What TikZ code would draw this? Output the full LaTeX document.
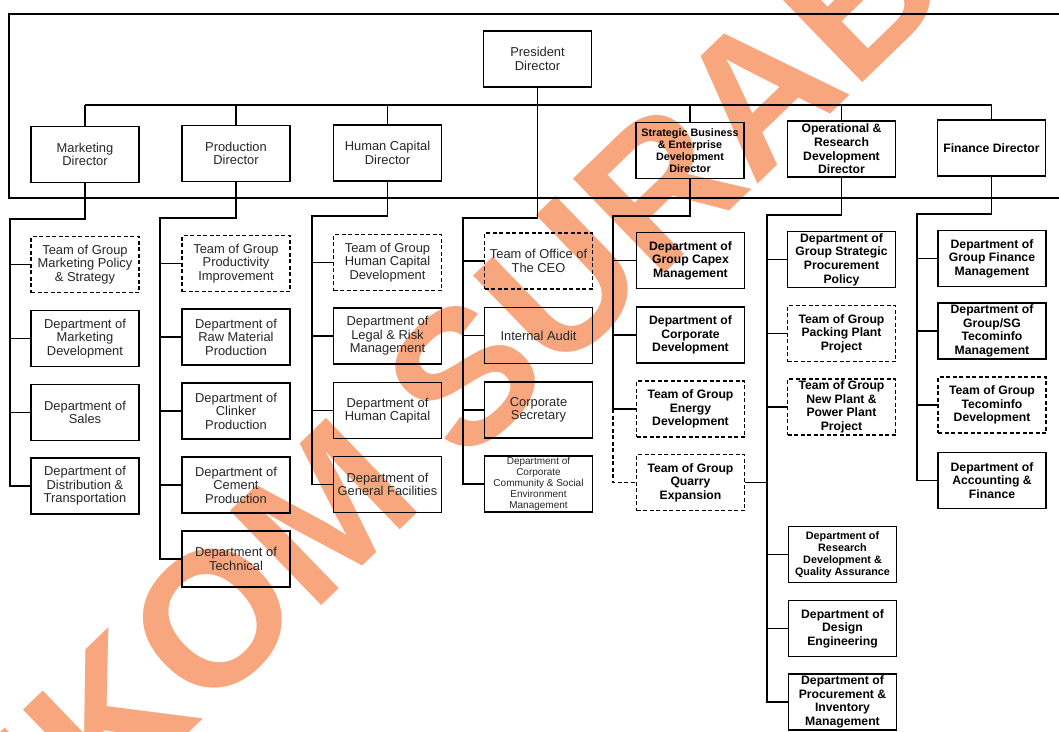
\documentclass[tikz,border=0pt]{standalone}
\usepackage{fontspec}
\setmainfont{Liberation Sans}
\newcommand\fRg{\fontsize{12.9}{13.4}\selectfont}
\newcommand\fBd{\bfseries\fontsize{12.2}{13.6}\selectfont}
\newcommand\fSm{\fontsize{10}{10.8}\selectfont}
\newcommand\fRs{\bfseries\fontsize{10.8}{12}\selectfont}
\newcommand\fSt{\bfseries\fontsize{10.8}{12.2}\selectfont}
\newcommand\fWm{\bfseries\fontsize{191}{191}\selectfont}
\definecolor{wm}{RGB}{248,166,126}
\tikzset{
  bx/.style={draw, line width=1.6pt, minimum width=108pt, minimum height=56pt, inner sep=0pt, align=center, text=black!85, font=\fRg},
  tb/.style={bx, dash pattern=on 4pt off 2.5pt},
  bd/.style={font=\fBd, text=black},
  ln/.style={line width=1.4pt},
  dl/.style={line width=1.4pt, dash pattern=on 4pt off 2.5pt},
}
\begin{document}
\begin{tikzpicture}[x=1pt,y=-1pt]
\useasboundingbox (0,0) rectangle (1059,731);
\fill[white] (0,0) rectangle (1059,731);
% watermark
\begin{scope}
\clip (0,0) rectangle (1059,731);
\node[rotate=44, anchor=base west, inner sep=0pt, text=wm, font=\fWm] (wmk) at (-108,1020) {STIKOM SURABAYA};
\end{scope}
% frame
\coordinate (ftl) at (9,14); \coordinate (ftr) at (1059,14);
\coordinate (fbl) at (9,198); \coordinate (fbr) at (1059,198);
\draw[ln] (ftr) -- (ftl) -- (fbl) -- (fbr);
% directors
\node[bx] (pres) at (537.5,59) {President\\Director};
\node[bx] (mkt) at (85,154.5) {Marketing\\Director};
\node[bx] (prod) at (236,153.5) {Production\\Director};
\node[bx] (hcd) at (387.5,153) {Human Capital\\Director};
\node[bx, font=\fSt, text=black] (sbd) at (690,150.5) {Strategic Business\\\& Enterprise\\Development\\Director};
\node[bx, bd] (ord) at (841.5,149) {Operational \&\\Research\\Development\\Director};
\node[bx, bd] (fin) at (991.5,148) {Finance Director};
\coordinate (bus) at (0,105);
\draw[ln] (mkt.north |- bus) -- (fin.north |- bus);
\foreach \d in {mkt,prod,hcd,sbd,ord,fin} { \draw[ln] (\d.north) -- (\d.north |- bus); }
% column 1
\node[tb] (m1) at (85,264.5) {Team of Group\\Marketing Policy\\\& Strategy};
\node[bx] (m2) at (85,338.5) {Department of\\Marketing\\Development};
\node[bx] (m3) at (85,412.5) {Department of\\Sales};
\node[bx] (m4) at (85,486) {Department of\\Distribution \&\\Transportation};
\coordinate (mb) at (10,219);
\draw[ln] (mkt.south) |- (mb) -- (mb |- m4.west) -- (m4.west);
\foreach \b in {m1,m2,m3} { \draw[ln] (\b.west) -- (\b.west -| mb); }
% column 2
\node[tb] (p1) at (236,263.5) {Team of Group\\Productivity\\Improvement};
\node[bx] (p2) at (236,337) {Department of\\Raw Material\\Production};
\node[bx] (p3) at (236,411) {Department of\\Clinker\\Production};
\node[bx] (p4) at (236,485) {Department of\\Cement\\Production};
\node[bx] (p5) at (236,559) {Department of\\Technical};
\coordinate (pb) at (160,218);
\draw[ln] (prod.south) |- (pb) -- (pb |- p5.west) -- (p5.west);
\foreach \b in {p1,p2,p3,p4} { \draw[ln] (\b.west) -- (\b.west -| pb); }
% column 3
\node[tb] (h1) at (387.5,262.5) {Team of Group\\Human Capital\\Development};
\node[bx] (h2) at (387.5,336) {Department of\\Legal \& Risk\\Management};
\node[bx] (h3) at (387.5,410.5) {Department of\\Human Capital};
\node[bx] (h4) at (387.5,484.5) {Department of\\General Facilities};
\coordinate (hb) at (312,216);
\draw[ln] (hcd.south) |- (hb) -- (hb |- h4.west) -- (h4.west);
\foreach \b in {h1,h2,h3} { \draw[ln] (\b.west) -- (\b.west -| hb); }
% column 4
\node[tb] (c1) at (538.5,261) {Team of Office of\\The CEO};
\node[bx] (c2) at (538.5,335.5) {Internal Audit};
\node[bx] (c3) at (538.5,410) {Corporate\\Secretary};
\node[bx, font=\fSm] (c4) at (538.5,484) {Department of\\Corporate\\Community \& Social\\Environment\\Management};
\coordinate (cb) at (463,218);
\draw[ln] (pres.south) |- (cb) -- (cb |- c4.west) -- (c4.west);
\foreach \b in {c1,c2,c3} { \draw[ln] (\b.west) -- (\b.west -| cb); }
% column 5
\node[bx, bd] (s1) at (690.5,260.5) {Department of\\Group Capex\\Management};
\node[bx, bd] (s2) at (690.5,335) {Department of\\Corporate\\Development};
\node[tb, bd] (s3) at (690.5,409) {Team of Group\\Energy\\Development};
\node[tb, bd] (s4) at (690.5,482.5) {Team of Group\\Quarry\\Expansion};
\coordinate (sb) at (613,216);
\draw[ln] (sbd.south) |- (sb) -- (sb |- s3.west) -- (s3.west);
\foreach \b in {s1,s2} { \draw[ln] (\b.west) -- (\b.west -| sb); }
\draw[dl] (sb |- s3.west) |- (s4.west);
% column 6
\node[bx, bd] (o1) at (841.5,259.5) {Department of\\Group Strategic\\Procurement\\Policy};
\node[tb, bd] (o2) at (841.5,333.5) {Team of Group\\Packing Plant\\Project};
\node[tb, bd] (o3) at (841.5,407) {Team of Group\\New Plant \&\\Power Plant\\Project};
\node[bx, font=\fRs, text=black] (o4) at (842.5,554.5) {Department of\\Research\\Development \&\\Quality Assurance};
\node[bx, bd] (o5) at (842.5,628.5) {Department of\\Design\\Engineering};
\node[bx, bd] (o6) at (842.5,702) {Department of\\Procurement \&\\Inventory\\Management};
\coordinate (ob) at (767,215);
\draw[ln] (ord.south) |- (ob) -- (ob |- o6.west) -- (o6.west);
\foreach \b in {o1,o2,o3,o4,o5} { \draw[ln] (\b.west) -- (\b.west -| ob); }
\draw[ln] (s4.east) -- (s4.east -| ob);
% column 7
\node[bx, bd] (f1) at (992,258.5) {Department of\\Group Finance\\Management};
\node[bx, bd] (f2) at (992,331) {Department of\\Group/SG\\Tecominfo\\Management};
\node[tb, bd] (f3) at (992,405) {Team of Group\\Tecominfo\\Development};
\node[bx, bd] (f4) at (992,480.5) {Department of\\Accounting \&\\Finance};
\coordinate (fb) at (917,214);
\draw[ln] (fin.south) |- (fb) -- (fb |- f4.west) -- (f4.west);
\foreach \b in {f1,f2,f3} { \draw[ln] (\b.west) -- (\b.west -| fb); }
\end{tikzpicture}
\end{document}
